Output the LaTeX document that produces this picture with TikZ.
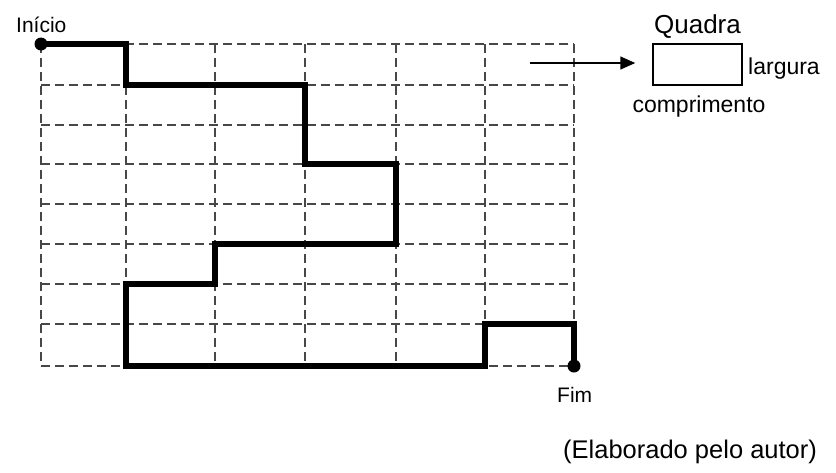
\documentclass[tikz,border=0pt]{standalone}
\usepackage{fontspec}
\setmainfont{Liberation Sans}
\usetikzlibrary{arrows.meta}
\begin{document}
\begin{tikzpicture}[x=1pt,y=-1pt,
  gridline/.style={draw=black!72,line width=1.4pt,dash pattern=on 9pt off 5pt},
  pathline/.style={draw=black,line width=5.5pt,line join=miter},
  enddot/.style={circle,fill=black,inner sep=0pt,minimum size=13pt},
  lbl/.style={inner sep=0pt,anchor=base west,text=black},
  boxst/.style={draw=black,line width=1.5pt,minimum width=89pt,minimum height=41pt,inner sep=0pt}]
\useasboundingbox (0,0) rectangle (836,472);
% grid
\foreach \x in {41,126,215,305,396,485,574} \draw[gridline] (\x,44) -- (\x,366);
\foreach \y in {44,85,125,164,204,244,284,324,366} \draw[gridline] (41,\y) -- (574,\y);
% end points
\node[enddot] (ini) at (41,44) {};
\node[enddot] (fim) at (574,366) {};
% path
\draw[pathline] (ini.center) -- (126,44) -- (126,85) -- (305,85) -- (305,164) -- (396,164)
  -- (396,244) -- (215,244) -- (215,284) -- (126,284) -- (126,366) -- (485,366)
  -- (485,324) -- (574,324) -- (fim.center);
% labels
\node[lbl,font=\fontsize{21}{25}\selectfont] (tini) at (16,32) {Início};
\node[lbl,font=\fontsize{21}{25}\selectfont] (tfim) at (557,402) {Fim};
\node[lbl,font=\fontsize{25.5}{30}\selectfont] (tsrc) at (563,458) {(Elaborado pelo autor)};
% legend
\node[boxst] (quad) at (697.5,64.5) {};
\coordinate (astart) at (530,63);
\draw[line width=1.5pt,-{Triangle[length=15pt,width=13pt]}] (astart) -- ([xshift=-17pt]quad.west |- astart);
\node[inner sep=0pt,anchor=base,font=\fontsize{26}{30}\selectfont] (tquad) at (697.5,33) {Quadra};
\node[lbl,font=\fontsize{23}{27}\selectfont] (tlarg) at (748,74) {largura};
\node[inner sep=0pt,anchor=base,font=\fontsize{23}{27}\selectfont] (tcomp) at (699,112) {comprimento};
\end{tikzpicture}
\end{document}
